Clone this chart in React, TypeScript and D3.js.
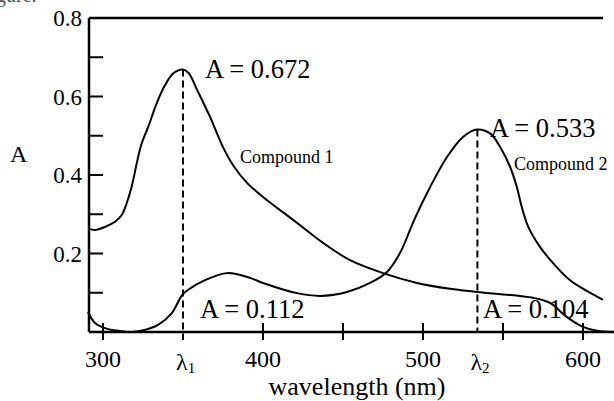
import React from "react";
import * as d3 from "d3";

// wavelength (nm) vs absorbance
const compound1 = [
  [290.8, 0.264], [295, 0.26], [301.3, 0.268], [307.5, 0.281], [311.7, 0.298],
  [314.8, 0.328], [317.9, 0.37], [321.1, 0.43], [324.2, 0.481], [328.3, 0.523],
  [333.6, 0.583], [338.8, 0.629], [344, 0.659], [349.6, 0.669], [353.5, 0.66],
  [358.8, 0.617], [366.9, 0.548], [375, 0.471], [381.3, 0.425],
  [390, 0.38], [400, 0.344], [421.3, 0.278], [437.5, 0.227], [454.4, 0.183],
  [475, 0.15], [496.3, 0.125], [516.9, 0.11], [533.8, 0.102], [568.8, 0.087],
  [579.4, 0.074], [590, 0.038], [600, 0.013], [608.8, 0.003], [618.8, 0],
];

const compound2 = [
  [290.6, 0.051], [295, 0.023], [301.3, 0.01], [309.4, 0.003], [318, 0.0],
  [326, 0.005], [334.4, 0.018], [343, 0.048], [349.4, 0.094], [353, 0.107],
  [363.8, 0.132], [377.5, 0.15], [391.9, 0.138], [400, 0.125], [421.3, 0.099],
  [435.6, 0.092], [452.5, 0.102], [466.9, 0.125], [477.5, 0.153], [485.6, 0.201],
  [491.9, 0.26], [495, 0.29], [504.4, 0.369], [515, 0.446], [525, 0.497],
  [533.6, 0.516], [541.9, 0.506], [548.1, 0.472], [554.4, 0.421], [558.6, 0.37],
  [561.7, 0.319], [565.8, 0.268], [573.1, 0.217], [581.4, 0.175], [591.9, 0.132],
  [598.1, 0.115], [612.5, 0.082],
];

const lambda1 = 350;
const lambda2 = 534;
const yTicks = [0.1, 0.2, 0.3, 0.4, 0.5, 0.6, 0.7];
const yLabels = [0.2, 0.4, 0.6, 0.8];
const xTicks = [300, 400, 450, 500, 550, 600];
const xLabels = [300, 400, 500, 600];

const font = "'Liberation Serif', 'Times New Roman', serif";

export default function App() {
  const x = d3.scaleLinear().domain([300, 600]).range([103, 583]);
  const y = d3.scaleLinear().domain([0, 0.8]).range([332, 18]);
  const x0 = 89;

  const line = d3
    .line<number[]>()
    .x((d) => x(d[0]))
    .y((d) => y(d[1]))
    .curve(d3.curveCatmullRom.alpha(0.5));

  return (
    <svg
      width={614}
      height={401}
      style={{ position: "absolute", left: 0, top: 0, background: "#fff" }}
      fontFamily={font}
    >
      <text x={-4} y={2} fontSize={20} fill="#555">
        gure.
      </text>

      {/* curves */}
      <path d={line(compound1) ?? ""} fill="none" stroke="#000" strokeWidth={2} />
      <path d={line(compound2) ?? ""} fill="none" stroke="#000" strokeWidth={2} />

      {/* lambda max markers */}
      <line x1={x(lambda1)} x2={x(lambda1)} y1={y(0.669)} y2={y(0) + 8}
        stroke="#000" strokeWidth={2} strokeDasharray="7,4" />
      <line x1={x(lambda2)} x2={x(lambda2)} y1={y(0.516)} y2={y(0)}
        stroke="#000" strokeWidth={2} strokeDasharray="7,4" />

      {/* frame */}
      <line x1={x0} x2={x0} y1={y(0.8)} y2={y(0)} stroke="#000" strokeWidth={2.5} />
      <line x1={x0} x2={603} y1={y(0.8)} y2={y(0.8)} stroke="#000" strokeWidth={2.5} />
      <line x1={x0} x2={614} y1={y(0)} y2={y(0)} stroke="#000" strokeWidth={2.5} />

      {yTicks.map((t) => (
        <line key={t} x1={x0} x2={x0 + 14} y1={y(t)} y2={y(t)} stroke="#000" strokeWidth={2} />
      ))}
      {yLabels.map((t) => (
        <text key={t} x={82} y={y(t) + 8} fontSize={23} textAnchor="end">
          {t.toFixed(1)}
        </text>
      ))}

      {xTicks.map((t) => (
        <line key={t} x1={x(t)} x2={x(t)} y1={y(0) - 9} y2={y(0) + 8} stroke="#000" strokeWidth={2} />
      ))}
      {xLabels.map((t) => (
        <text key={t} x={x(t)} y={367} fontSize={24} textAnchor="middle">
          {t}
        </text>
      ))}

      <text x={x(lambda1) - 7} y={370} fontSize={24}>
        λ<tspan fontSize={15} dy={3}>1</tspan>
      </text>
      <text x={x(lambda2) - 7} y={370} fontSize={24}>
        λ<tspan fontSize={15} dy={3}>2</tspan>
      </text>

      <text x={10} y={162} fontSize={24}>A</text>
      <text x={357} y={395} fontSize={26} textAnchor="middle">wavelength (nm)</text>

      <text x={205} y={78} fontSize={26.5}>A = 0.672</text>
      <text x={490} y={137} fontSize={26.5}>A = 0.533</text>
      <text x={200} y={318} fontSize={26.5}>A = 0.112</text>
      <text x={483} y={318} fontSize={26.5}>A = 0.104</text>

      <text x={240} y={163} fontSize={18}>Compound 1</text>
      <text x={514} y={170} fontSize={18}>Compound 2</text>
    </svg>
  );
}
